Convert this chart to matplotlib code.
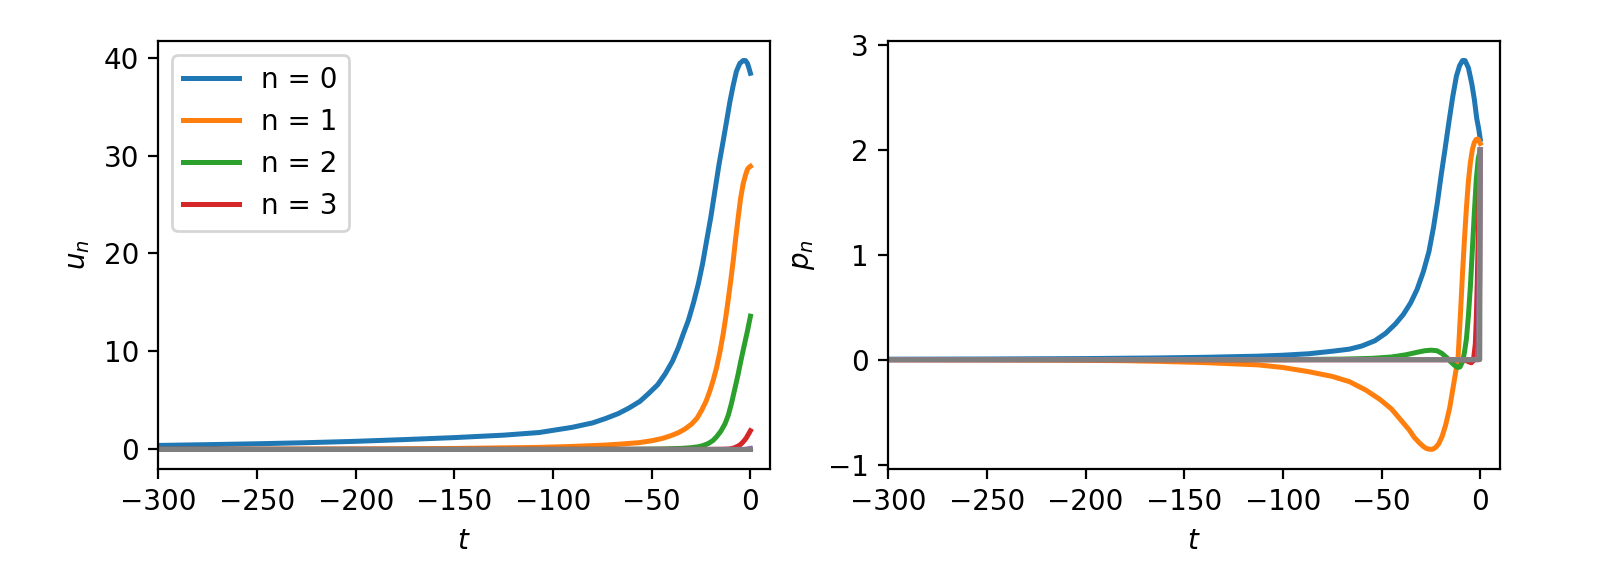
import numpy as np
import matplotlib
matplotlib.use("Agg")
import matplotlib.pyplot as plt

# values
t_u0 = [-300, -275, -250, -225, -200, -175, -150, -125, -107, -90.3, -80, -73.4, -67, -61.7, -56, -51.6,
        -47, -43.2, -39.5, -36.5, -34, -31.4, -28.8, -26.4, -24.2, -22.2, -20, -18, -16, -13.8, -12,
        -10.4, -8.7, -7.1, -5.4, -3.7, -2.5, -1.5, -0.7, 0]
u0 = [0.4, 0.48, 0.57, 0.68, 0.82, 1.0, 1.2, 1.45, 1.72, 2.25, 2.7, 3.15, 3.65, 4.2, 4.9, 5.7,
      6.6, 7.7, 9.0, 10.4, 11.8, 13.2, 15.0, 16.9, 19.0, 21.3, 23.8, 26.4, 29.0, 31.5, 33.6,
      35.5, 37.2, 38.6, 39.4, 39.7, 39.7, 39.4, 38.9, 38.4]

t_u1 = [-300, -250, -200, -150, -107, -90, -73.4, -65, -56.6, -50, -44.9, -40.5, -36.5, -33, -29.7,
        -27, -24.7, -22.5, -20.5, -18.8, -17.1, -15.4, -13.8, -12.5, -11.3, -10, -8.7, -7.5, -6.2,
        -5, -3.7, -2.5, -1.5, -0.7, 0]
u1 = [0.0, 0.02, 0.04, 0.09, 0.2, 0.3, 0.44, 0.55, 0.68, 0.88, 1.1, 1.38, 1.7, 2.1, 2.6,
      3.2, 4.0, 4.9, 6.0, 7.1, 8.4, 10.0, 11.8, 13.5, 15.2, 17.2, 19.3, 21.5, 23.7,
      25.6, 27.1, 28.0, 28.6, 28.8, 28.9]

t_u2 = [-300, -100, -60, -45, -34.8, -30, -26.4, -23.8, -21.3, -19, -17.1, -15, -12.9, -11.2, -9.6,
        -8, -6.2, -5, -3.7, -2.6, -1.5, -0.7, 0]
u2 = [0.0, 0.0, 0.01, 0.04, 0.1, 0.17, 0.27, 0.4, 0.6, 0.9, 1.3, 1.85, 2.6, 3.5, 4.7,
      6.1, 7.7, 8.9, 10.1, 11.1, 12.1, 12.9, 13.6]

t_u3 = [-300, -20, -14, -11.3, -9.5, -8, -6.2, -5, -4, -2.9, -2, -1, 0]
u3 = [0.0, 0.0, 0.01, 0.03, 0.08, 0.17, 0.34, 0.5, 0.7, 0.95, 1.2, 1.55, 1.9]

t_u_hi = [-300, -3, 0]
u4 = [0.0, 0.0, 0.1]
u5 = [0.0, 0.0, 0.0]
u6 = [0.0, 0.0, 0.0]
u7 = [0.0, 0.0, 0.0]

t_p0 = [-300, -250, -200, -164, -140, -112.6, -100, -86.9, -75, -66.3, -60, -53.4, -48, -43, -39,
        -35.3, -32, -28.8, -26, -23.7, -21.7, -19.8, -17.9, -16, -14, -12.1, -10.5, -9, -7.7,
        -6, -4.3, -3, -1.8, -0.8, 0]
p0 = [0.004, 0.006, 0.01, 0.016, 0.022, 0.033, 0.042, 0.056, 0.08, 0.1, 0.13, 0.18, 0.25, 0.34, 0.43,
      0.54, 0.67, 0.84, 1.03, 1.26, 1.5, 1.76, 2.0, 2.25, 2.5, 2.7, 2.8, 2.85, 2.85,
      2.78, 2.63, 2.48, 2.3, 2.2, 2.1]

t_p1 = [-300, -250, -215, -180, -164, -140, -112.6, -100, -86.9, -75, -66.3, -58, -50.8, -45, -40.5,
        -36, -33.5, -31, -29, -27.5, -26, -25, -24, -22.5, -21, -19.3, -17.5, -15.5, -13.8, -12.3,
        -11.3, -10, -9, -8, -7, -6, -5, -4, -3, -2, -1, 0]
p1 = [0.0, -0.002, -0.005, -0.01, -0.016, -0.028, -0.05, -0.075, -0.115, -0.16, -0.21, -0.29, -0.38, -0.47, -0.57,
      -0.67, -0.74, -0.79, -0.825, -0.845, -0.853, -0.855, -0.853, -0.835, -0.8, -0.73, -0.62, -0.46, -0.27, -0.1,
      0.0, 0.45, 0.82, 1.15, 1.45, 1.7, 1.88, 2.0, 2.07, 2.1, 2.1, 2.06]

t_p2 = [-300, -100, -70, -55, -45, -38, -32, -28, -25, -22, -19.5, -17, -15, -13, -11.5, -10.3,
        -9, -8, -7, -6, -5, -4, -3, -2, -1, 0]
p2 = [0.0, 0.0, 0.005, 0.012, 0.025, 0.045, 0.07, 0.085, 0.09, 0.085, 0.06, 0.02, -0.02, -0.055, -0.075, -0.07,
      -0.02, 0.07, 0.2, 0.42, 0.7, 1.05, 1.4, 1.72, 1.92, 2.0]

t_p3 = [-300, -8, -6, -4.5, -3.5, -2.5, -2, -1.5, -1, -0.5, 0]
p3 = [0.0, 0.0, -0.02, -0.03, -0.01, 0.15, 0.4, 0.75, 1.2, 1.6, 2.0]

t_p4 = [-300, -1.5, -1, -0.5, 0]
p4 = [0.0, 0.0, 0.15, 0.9, 2.0]
t_p5 = [-300, -0.8, -0.3, 0]
p5 = [0.0, 0.0, 0.8, 2.0]
t_p6 = [-300, -0.5, 0]
p6 = [0.0, 0.0, 2.0]
t_p7 = [-300, -0.25, 0]
p7 = [0.0, 0.0, 2.0]

u_series = [(t_u0, u0), (t_u1, u1), (t_u2, u2), (t_u3, u3),
            (t_u_hi, u4), (t_u_hi, u5), (t_u_hi, u6), (t_u_hi, u7)]
p_series = [(t_p0, p0), (t_p1, p1), (t_p2, p2), (t_p3, p3),
            (t_p4, p4), (t_p5, p5), (t_p6, p6), (t_p7, p7)]

fig, (ax1, ax2) = plt.subplots(1, 2, figsize=(8, 2.855), dpi=200)
fig.subplots_adjust(left=0.099, right=0.9375, bottom=0.179, top=0.928, wspace=0.193)

for n, (t, u) in enumerate(u_series):
    lab = f"n = {n}" if n < 4 else None
    ax1.plot(t, u, lw=1.8, label=lab)
for n, (t, p) in enumerate(p_series):
    ax2.plot(t, p, lw=1.8)

ax1.set_xlim(-300, 10)
ax2.set_xlim(-300, 10)
ax1.set_xlabel("$t$")
ax2.set_xlabel("$t$")
ax1.set_ylabel("$u_n$")
ax2.set_ylabel("$p_n$")
ax1.legend(loc="upper left")

fig.savefig("out.png", dpi=200)
